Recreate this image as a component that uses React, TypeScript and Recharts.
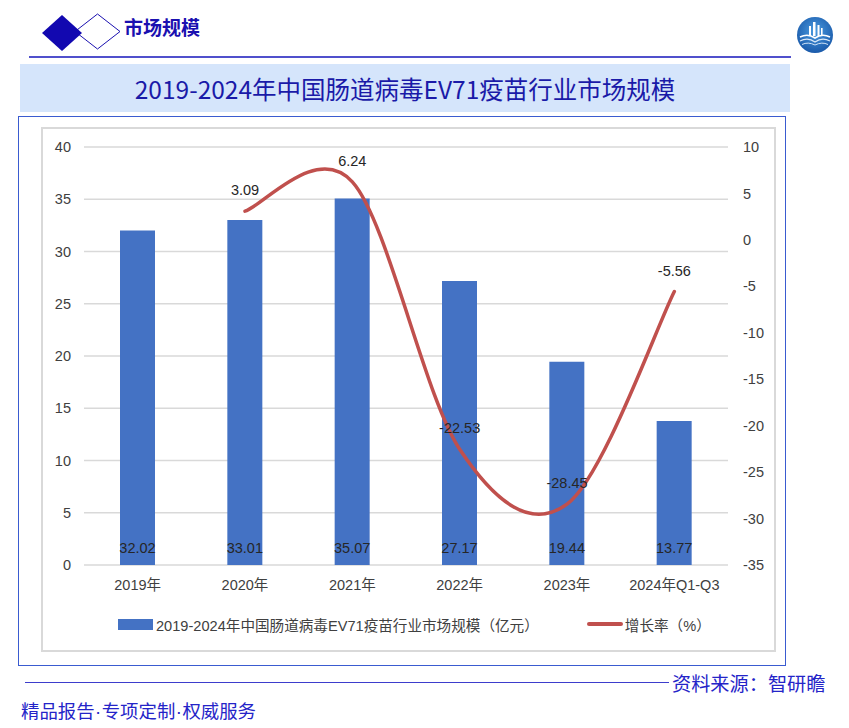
import { ComposedChart, Bar, Line, XAxis, YAxis, CartesianGrid, LabelList, Legend } from 'recharts';

const YEARS = ['2019年', '2020年', '2021年', '2022年', '2023年', '2024年Q1-Q3'];
const MARKET_SIZE = [32.02, 33.01, 35.07, 27.17, 19.44, 13.77];
const GROWTH_RATE = [null, 3.09, 6.24, -22.53, -28.45, -5.56];
const LEFT_TICKS = [0, 5, 10, 15, 20, 25, 30, 35, 40];
const RIGHT_TICKS = [-35, -30, -25, -20, -15, -10, -5, 0, 5, 10];
const BAR_NAME = '2019-2024年中国肠道病毒EV71疫苗行业市场规模（亿元）';
const LINE_NAME = '增长率（%）';
const TITLE = '2019-2024年中国肠道病毒EV71疫苗行业市场规模';
const SLOGAN = ['精品报告', '专项定制', '权威服务'];

const chartData = YEARS.map((year, i) => ({
  year,
  size: MARKET_SIZE[i],
  growth: GROWTH_RATE[i],
}));

const CJK = '"Noto Sans CJK SC", sans-serif';
const CHART_FONT = '"Liberation Sans", "Noto Sans CJK SC", sans-serif';
const BAR_COLOR = '#4472c4';
const LINE_COLOR = '#c0504d';
const TEXT = '#404040';

// excel-like smoothed line (catmull-rom through the points)
const smoothCurve = (context: any) => {
  let xs: number[] = [];
  let ys: number[] = [];
  return {
    areaStart() {},
    areaEnd() {},
    lineStart() {
      xs = [];
      ys = [];
    },
    lineEnd() {
      const n = xs.length;
      if (!n) return;
      context.moveTo(xs[0], ys[0]);
      for (let i = 0; i < n - 1; i++) {
        const i0 = Math.max(i - 1, 0);
        const i3 = Math.min(i + 2, n - 1);
        const c1x = xs[i] + (xs[i + 1] - xs[i0]) / 6;
        const c1y = ys[i] + (ys[i + 1] - ys[i0]) / 6;
        const c2x = xs[i + 1] - (xs[i3] - xs[i]) / 6;
        const c2y = ys[i + 1] - (ys[i3] - ys[i]) / 6;
        context.bezierCurveTo(c1x, c1y, c2x, c2y, xs[i + 1], ys[i + 1]);
      }
    },
    point(x: number, y: number) {
      xs.push(+x);
      ys.push(+y);
    },
  };
};

const BarValueLabel = (props: any) => {
  const { x, y, width, height, value } = props;
  if (value == null) return null;
  return (
    <text
      x={x + width / 2}
      y={y + height - 17}
      textAnchor="middle"
      dominantBaseline="central"
      fill="#262626"
      fontSize={14.5}
      fontFamily={CHART_FONT}
    >
      {Number(value).toFixed(2)}
    </text>
  );
};

const LineValueLabel = (props: any) => {
  const { x, y, value } = props;
  if (value == null) return null;
  return (
    <text
      x={x}
      y={y - 21}
      textAnchor="middle"
      dominantBaseline="central"
      fill="#262626"
      fontSize={14.5}
      fontFamily={CHART_FONT}
    >
      {Number(value).toFixed(2)}
    </text>
  );
};

const LegendContent = () => (
  <div
    style={{
      display: 'flex',
      alignItems: 'center',
      height: 20,
      paddingLeft: 76,
      fontFamily: CHART_FONT,
      fontSize: 14.6,
      color: TEXT,
      whiteSpace: 'nowrap',
    }}
  >
    <span style={{ width: 35, height: 11, background: BAR_COLOR, marginRight: 3 }} />
    <span>{BAR_NAME}</span>
    <span style={{ width: 36, height: 4, background: LINE_COLOR, marginLeft: 48, marginRight: 2, borderRadius: 2 }} />
    <span>{LINE_NAME}</span>
  </div>
);

const Logo = () => (
  <svg width={38} height={38} viewBox="0 0 38 38" style={{ position: 'absolute', left: 796, top: 16 }}>
    <defs>
      <radialGradient id="lg" cx="50%" cy="40%" r="60%">
        <stop offset="0%" stopColor="#4b9be0" />
        <stop offset="100%" stopColor="#1a5aaa" />
      </radialGradient>
    </defs>
    <circle cx={19} cy={19} r={18} fill="url(#lg)" />
    <rect x={13} y={10} width={2} height={10} fill="#fff" />
    <rect x={17} y={6} width={2.5} height={14} fill="#fff" />
    <rect x={21.5} y={9} width={2} height={11} fill="#fff" />
    <rect x={25} y={12} width={1.6} height={8} fill="#fff" />
    <path d="M4 21 Q12 17 19 22 Q26 17 34 21" stroke="#fff" strokeWidth={1.6} fill="none" />
    <path d="M4 25 Q12 21 19 26 Q26 21 34 25" stroke="#dbe9f8" strokeWidth={1.2} fill="none" />
    <path d="M6 28.5 Q12 25.5 19 29 Q26 25.5 32 28.5" stroke="#cfe2f6" strokeWidth={1} fill="none" />
  </svg>
);

export default function App() {
  return (
    <div style={{ position: 'absolute', left: 0, top: 0, width: 849, height: 728, background: '#fff', overflow: 'hidden' }}>
      {/* header */}
      <svg width={130} height={60} style={{ position: 'absolute', left: 0, top: 0 }}>
        <polygon points="97.5,14 120,31.5 97.5,49 75,31.5" fill="#fff" stroke="#1a10b0" strokeWidth={1} />
        <polygon points="62,15 82,33 62,51 42,33" fill="#1208b0" />
      </svg>
      <div
        style={{
          position: 'absolute',
          left: 124,
          top: 14,
          fontFamily: CJK,
          fontWeight: 700,
          fontSize: 19,
          color: '#1a10b0',
          lineHeight: '26px',
        }}
      >
        市场规模
      </div>
      <div style={{ position: 'absolute', left: 29, top: 56, width: 762, height: 1.5, background: '#5050cc' }} />
      <Logo />

      {/* title banner */}
      <div
        style={{
          position: 'absolute',
          left: 20,
          top: 64,
          width: 770,
          height: 48,
          background: '#d5e5fb',
          display: 'flex',
          alignItems: 'center',
          justifyContent: 'center',
          fontFamily: CJK,
          fontSize: 24.5,
          color: '#1a1aa8',
        }}
      >
        {TITLE}
      </div>

      {/* chart frame */}
      <div
        style={{
          position: 'absolute',
          left: 18,
          top: 116,
          width: 766,
          height: 548,
          border: '1.5px solid #3a5bd0',
        }}
      />
      <div
        style={{
          position: 'absolute',
          left: 41,
          top: 127,
          width: 731,
          height: 521,
          border: '2px solid #d9d9d9',
        }}
      />
      <div style={{ position: 'absolute', left: 42, top: 128 }}>
        <ComposedChart
          width={731}
          height={521}
          data={chartData}
          margin={{ top: 19, right: 0, bottom: 54, left: 0 }}
          style={{ fontFamily: CHART_FONT }}
        >
          <CartesianGrid yAxisId="left" vertical={false} stroke="#d9d9d9" strokeWidth={1.5} />
          <XAxis
            dataKey="year"
            height={30}
            axisLine={false}
            tickLine={false}
            tickMargin={9}
            interval={0}
            tick={{ fill: TEXT, fontSize: 14.5, fontFamily: CHART_FONT }}
          />
          <YAxis
            yAxisId="left"
            width={42}
            domain={[0, 40]}
            ticks={LEFT_TICKS}
            axisLine={false}
            tickLine={false}
            tickMargin={7}
            tick={{ fill: TEXT, fontSize: 14.5, fontFamily: CHART_FONT }}
          />
          <YAxis
            yAxisId="right"
            orientation="right"
            width={45}
            domain={[-35, 10]}
            ticks={RIGHT_TICKS}
            axisLine={false}
            tickLine={false}
            tickMargin={9}
            tick={{ fill: TEXT, fontSize: 14.5, fontFamily: CHART_FONT, textAnchor: 'start' }}
          />
          <Legend
            layout="horizontal"
            verticalAlign="middle"
            align="center"
            wrapperStyle={{ top: 486, left: 0, width: 731, height: 20 }}
            content={<LegendContent />}
          />
          <Bar yAxisId="left" dataKey="size" name={BAR_NAME} fill={BAR_COLOR} barSize={35} isAnimationActive={false}>
            <LabelList dataKey="size" content={<BarValueLabel />} />
          </Bar>
          <Line
            yAxisId="right"
            dataKey="growth"
            name={LINE_NAME}
            type={smoothCurve as any}
            stroke={LINE_COLOR}
            strokeWidth={3.5}
            strokeLinecap="round"
            dot={false}
            activeDot={false}
            isAnimationActive={false}
          >
            <LabelList dataKey="growth" content={<LineValueLabel />} />
          </Line>
        </ComposedChart>
      </div>

      {/* footer */}
      <div style={{ position: 'absolute', left: 25, top: 681.5, width: 644, height: 1.2, background: '#3d3dcc' }} />
      <div
        style={{
          position: 'absolute',
          left: 672,
          top: 670,
          fontFamily: CJK,
          fontSize: 19.2,
          lineHeight: '26px',
          color: '#2424c8',
          whiteSpace: 'nowrap',
        }}
      >
        资料来源：智研瞻
      </div>
      <div
        style={{
          position: 'absolute',
          left: 21,
          top: 697,
          fontFamily: CJK,
          fontSize: 18.4,
          lineHeight: '26px',
          color: '#2424c8',
          whiteSpace: 'nowrap',
        }}
      >
        {SLOGAN.map((part, i) => (
          <span key={part}>
            {i > 0 && <span style={{ fontFamily: '"Liberation Sans", sans-serif', margin: '0 0.5px' }}>·</span>}
            {part}
          </span>
        ))}
      </div>
    </div>
  );
}
